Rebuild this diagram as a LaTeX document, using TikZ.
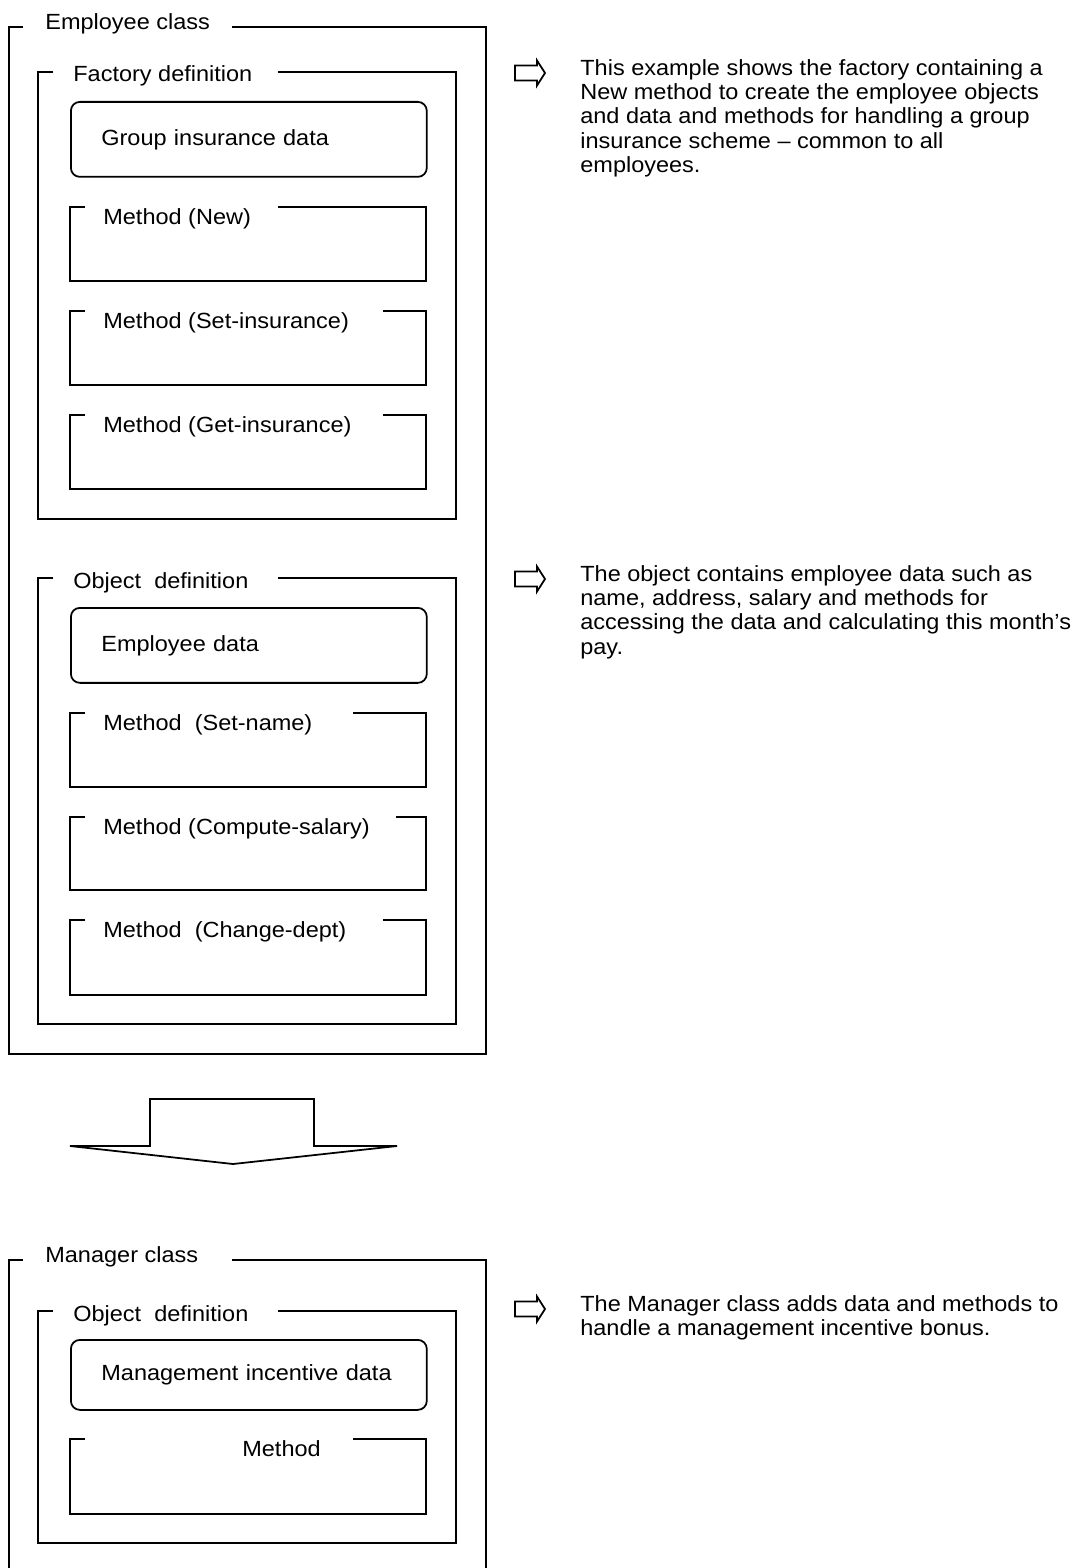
\documentclass[tikz,border=0pt]{standalone}
\usepackage{fontspec}
\setmainfont{Liberation Sans}[FakeStretch=1.07]
\usetikzlibrary{positioning}

\tikzset{
  frame/.style={draw, line width=1pt},
  boxtitle/.style={anchor=base west, inner xsep=0.4cm, inner ysep=0pt},
  databox/.style={draw, line width=1pt, rounded corners=0.18cm, anchor=north west,
    minimum width=7.12cm, minimum height=1.5cm, text width=5.9cm, inner xsep=0.61cm, align=left},
  note/.style={anchor=north west, inner sep=0pt, align=left},
  glyph/.style={draw, line width=1pt, line join=miter},
}

\begin{document}
\begin{tikzpicture}[x=0.02cm, y=-0.02cm,
    every node/.style={font=\fontsize{12.5}{13.8}\selectfont}]
    \useasboundingbox (0,0) rectangle (1077,1568);

    % Employee class
    \node[boxtitle] (ec) at (25,30) {Employee class};
    \draw[frame] (23,27) -- (9,27) -- (9,1054) -- (486,1054) -- (486,27) -- (232,27);

    % factory part
    \node[boxtitle] (fd) at (53,82) {Factory definition};
    \draw[frame] (53,72) -- (38,72) -- (38,519) -- (456,519) -- (456,72) -- (278,72);
    \node[databox] (gi) at (70,101) {Group insurance data};

    \node[boxtitle] (mnew) at (83,224) {Method (New)};
    \draw[frame] (85,207) -- (70,207) -- (70,281) -- (426,281) -- (426,207) -- (278,207);
    \node[boxtitle] (mset) at (83,328) {Method (Set-insurance)};
    \draw[frame] (85,311) -- (70,311) -- (70,385) -- (426,385) -- (426,311) -- (383,311);
    \node[boxtitle] (mget) at (83,432) {Method (Get-insurance)};
    \draw[frame] (85,415) -- (70,415) -- (70,489) -- (426,489) -- (426,415) -- (383,415);

    % object part
    \node[boxtitle] (od) at (53,588) {Object~ definition};
    \draw[frame] (53,578) -- (38,578) -- (38,1024) -- (456,1024) -- (456,578) -- (278,578);
    \node[databox] (ed) at (70,607) {Employee data};

    \node[boxtitle] (mname) at (83,730) {Method~ (Set-name)};
    \draw[frame] (85,713) -- (70,713) -- (70,787) -- (426,787) -- (426,713) -- (353,713);
    \node[boxtitle] (msal) at (83,834) {Method (Compute-salary)};
    \draw[frame] (85,817) -- (70,817) -- (70,890) -- (426,890) -- (426,817) -- (396,817);
    \node[boxtitle] (mdept) at (83,937) {Method~ (Change-dept)};
    \draw[frame] (85,920) -- (70,920) -- (70,995) -- (426,995) -- (426,920) -- (383,920);

    % big arrow
    \draw[frame] (70,1146) -- (150,1146) -- (150,1099) -- (314,1099) -- (314,1146)
      -- (397,1146) -- (233,1164) -- cycle;

    % Manager class
    \node[boxtitle] (mc) at (25,1262) {Manager class};
    \draw[frame] (9,1575) -- (9,1260) -- (23,1260);
    \draw[frame] (486,1575) -- (486,1260) -- (232,1260);

    \node[boxtitle] (mo) at (53,1321) {Object~ definition};
    \draw[frame] (53,1311) -- (38,1311) -- (38,1543) -- (456,1543) -- (456,1311) -- (278,1311);
    \node[databox, minimum height=1.4cm] (mi) at (70,1339) {Management incentive data};
    \node[boxtitle] (mm) at (222,1456) {Method};
    \draw[frame] (85,1439) -- (70,1439) -- (70,1514) -- (426,1514) -- (426,1439) -- (353,1439);

    % notes
    \coordinate (g1) at (530,73);
    \draw[glyph] (g1) ++(-15,-7.5) -- ++(22,0) -- ++(0,-5) -- ++(8,12.5) -- ++(-8,12.5)
      -- ++(0,-5) -- ++(-22,0) -- cycle;
    \node[note] (n1) at (580,59) {This example shows the factory containing a\\
      New method to create the employee objects\\
      and data and methods for handling a group\\
      insurance scheme – common to all\\
      employees.};

    \coordinate (g2) at (530,579);
    \draw[glyph] (g2) ++(-15,-7.5) -- ++(22,0) -- ++(0,-5) -- ++(8,12.5) -- ++(-8,12.5)
      -- ++(0,-5) -- ++(-22,0) -- cycle;
    \node[note] (n2) at (580,565) {The object contains employee data such as\\
      name, address, salary and methods for\\
      accessing the data and calculating this month's\\
      pay.};

    \coordinate (g3) at (530,1309);
    \draw[glyph] (g3) ++(-15,-7.5) -- ++(22,0) -- ++(0,-5) -- ++(8,12.5) -- ++(-8,12.5)
      -- ++(0,-5) -- ++(-22,0) -- cycle;
    \node[note] (n3) at (580,1295) {The Manager class adds data and methods to\\
      handle a management incentive bonus.};
\end{tikzpicture}
\end{document}
